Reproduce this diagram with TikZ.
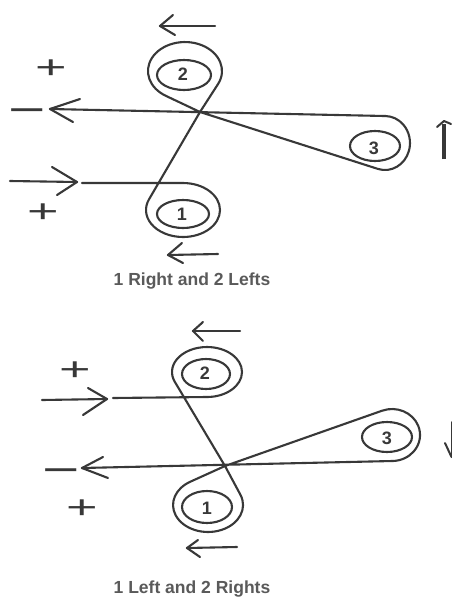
\documentclass[tikz,border=0pt]{standalone}
\usepackage{fontspec}
\setmainfont{Liberation Sans}
\definecolor{ink}{HTML}{383838}
\definecolor{captext}{HTML}{5A5A5A}
\begin{document}
\begin{tikzpicture}[x=1pt,y=1pt,yscale=-1,
  rope/.style={draw=ink, line width=2.1pt, line join=round, line cap=round},
  loopin/.style={draw=ink, line width=2.1pt},
  num/.style={font=\bfseries\fontsize{18}{18}\selectfont, text=ink, inner sep=0pt},
  plussign/.style={font=\fontsize{54}{54}\selectfont, text=ink, inner sep=0pt},
  minussign/.style={font=\fontsize{40}{40}\selectfont, text=ink, inner sep=0pt, anchor=base},
  captiontext/.style={font=\bfseries\fontsize{17.5}{17.5}\selectfont, text=captext, inner sep=0pt}]
\useasboundingbox (0,0) rectangle (452,598);
\fill[white] (0,0) rectangle (452,598);

%%%%%%%%%%%%%%%% upper figure: 1 Right and 2 Lefts
\coordinate (C1) at (200,112);
\coordinate (T1top) at (183,183);
\coordinate (T2right) at (218.0,84.1);
\coordinate (T3low) at (377.9,168.9);
\coordinate (TipL1) at (50,109);
\coordinate (TipR1) at (77,182);
\coordinate (StartR1) at (82,183);

% main strand
\draw[rope] (StartR1) -- (T1top)
  arc[start angle=-90, end angle=203.07, x radius=37, y radius=27] -- (C1)
  -- (T2right) arc[start angle=26.8, end angle=-238.8, x radius=37, y radius=29] -- (C1)
  -- (T3low) arc[start angle=106.5, end angle=-88.85, x radius=25, y radius=27] -- (TipL1);
% arrowheads on the strand ends
\draw[rope] (80,99) -- (TipL1) -- (73,122);
\draw[rope] (10,181) -- (TipR1);
\draw[rope] (52,167) -- (TipR1) -- (57,195);
% inner rings and numbers
\draw[loopin] (184,75) ellipse[x radius=27, y radius=15];
\draw[loopin] (183,214) ellipse[x radius=26, y radius=14];
\draw[loopin] (375,146) ellipse[x radius=25, y radius=15];
\node[num] (n2a) at (183,74) {2};
\node[num] (n1a) at (182,214) {1};
\node[num] (n3a) at (374,148) {3};
% signs
\node[plussign] (pa1) at (51,69) {\scalebox{1}[0.6]{+}};
\node[plussign] (pa2) at (43,213) {\scalebox{1}[0.6]{+}};
\node[minussign] (ma1) at (27.5,123) {\scalebox{1.6}[1]{−}};
% small direction arrows
\coordinate (ua) at (160,26);
\draw[rope] (215,26) -- (ua);
\draw[rope] (173,15) -- (ua) -- (175,35);
\coordinate (da) at (168,255);
\draw[rope] (218,254) -- (da);
\draw[rope] (182,243) -- (da) -- (183,263);
% up arrow at right
\coordinate (upT) at (444,121);
\draw[draw=ink, line width=4.5pt] (444,159) -- (444,124);
\draw[rope, line width=2pt] (437,127) -- (upT) -- (451,124);
\node[captiontext] (capA) at (192,281) {1 Right and 2 Lefts};

%%%%%%%%%%%%%%%% lower figure: 1 Left and 2 Rights
\coordinate (C2) at (225,466);
\coordinate (B2low) at (207,397);
\coordinate (B1right) at (240.4,494.7);
\coordinate (B3top) at (382.1,410.7);
\coordinate (TipL2) at (82,468);
\coordinate (TipR2) at (107,399);
\coordinate (StartR2) at (113,398);

\draw[rope] (StartR2) -- (B2low)
  arc[start angle=90, end angle=-203.1, x radius=35, y radius=25] -- (C2)
  -- (B1right) arc[start angle=-22.4, end angle=239.6, x radius=35, y radius=27] -- (C2)
  -- (B3top) arc[start angle=-110.8, end angle=88.2, x radius=28, y radius=26] -- (TipL2);
\draw[rope] (103,457) -- (TipL2) -- (108,478);
\draw[rope] (42,400) -- (TipR2);
\draw[rope] (88,388) -- (TipR2) -- (83,415);
\draw[loopin] (206,374) ellipse[x radius=24, y radius=15];
\draw[loopin] (207,507) ellipse[x radius=25, y radius=16];
\draw[loopin] (387,437) ellipse[x radius=25, y radius=15];
\node[num] (n2b) at (205,373) {2};
\node[num] (n1b) at (207,508) {1};
\node[num] (n3b) at (387,438) {3};
\node[plussign] (pb1) at (75,371) {\scalebox{1}[0.6]{+}};
\node[plussign] (pb2) at (82,509) {\scalebox{1}[0.6]{+}};
\node[minussign] (mb1) at (61,483) {\scalebox{1.6}[1]{−}};
\coordinate (ub) at (193,331);
\draw[rope] (240,331) -- (ub);
\draw[rope] (203,322) -- (ub) -- (203,341);
\coordinate (db) at (187,548);
\draw[rope] (237,547) -- (db);
\draw[rope] (198,540) -- (db) -- (200,557);
% down arrow at right edge (partly cut off)
\coordinate (dnT) at (451.5,457);
\draw[rope, line width=2pt] (451.5,422) -- (dnT);
\draw[rope, line width=2pt] (445,443) -- (dnT);
\node[captiontext] (capB) at (192,589) {1 Left and 2 Rights};
\end{tikzpicture}
\end{document}
